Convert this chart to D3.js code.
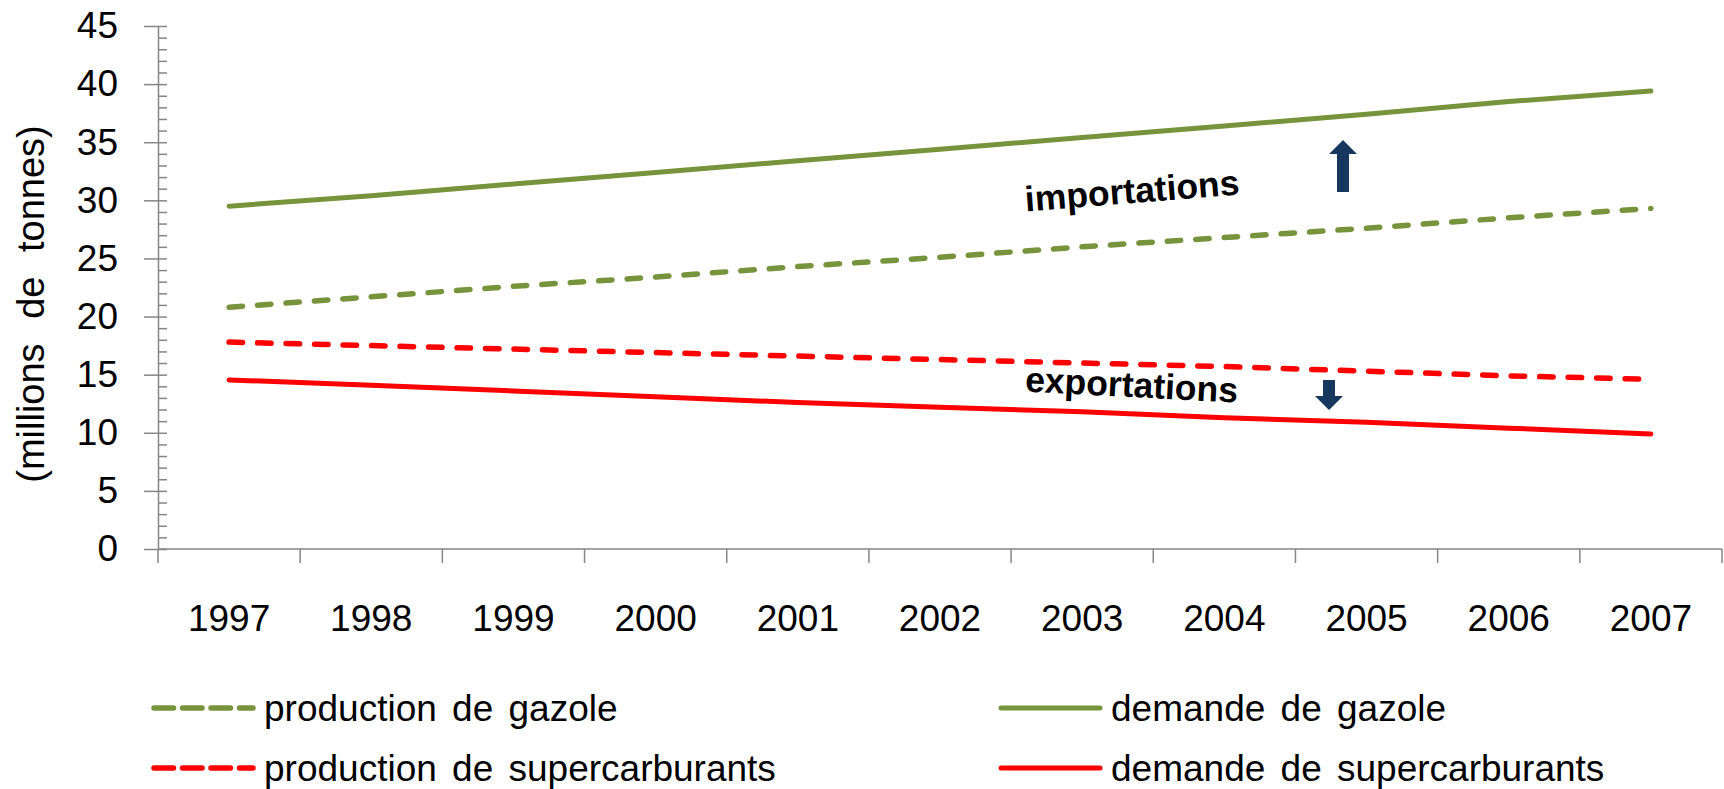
<!DOCTYPE html>
<html>
<head>
<meta charset="utf-8">
<script src="https://cdn.jsdelivr.net/npm/d3@7"></script>
<style>
  html, body { margin: 0; padding: 0; background: #fff; }
  svg { display: block; font-family: "Liberation Sans", Arial, sans-serif; }
</style>
</head>
<body>
<svg id="chart" width="1724" height="789"></svg>
<script>
// ----- data -----
const years = [1997, 1998, 1999, 2000, 2001, 2002, 2003, 2004, 2005, 2006, 2007];
const demandeGazole = [29.5, 30.4, 31.4, 32.4, 33.4, 34.4, 35.4, 36.4, 37.4, 38.5, 39.4];
const productionGazole = [20.8, 21.7, 22.6, 23.4, 24.3, 25.1, 26.0, 26.8, 27.6, 28.5, 29.3];
const productionSuper = [17.8, 17.5, 17.2, 16.9, 16.6, 16.3, 16.0, 15.7, 15.3, 14.9, 14.6];
const demandeSuper = [14.55, 14.1, 13.6, 13.1, 12.6, 12.2, 11.8, 11.3, 10.9, 10.4, 9.9];
const yMajorTicks = [0, 5, 10, 15, 20, 25, 30, 35, 40, 45];

const GREEN = "#77933C";
const RED = "#FF0000";
const AXIS = "#868686";
const NAVY = "#17375E";

const series = [
  { name: "production de gazole", values: productionGazole, color: GREEN, dashed: true },
  { name: "demande de gazole", values: demandeGazole, color: GREEN, dashed: false },
  { name: "production de supercarburants", values: productionSuper, color: RED, dashed: true },
  { name: "demande de supercarburants", values: demandeSuper, color: RED, dashed: false }
];

const svg = d3.select("#chart");
svg.append("rect").attr("width", 1724).attr("height", 789).attr("fill", "#fff");

// plot area
const plotL = 158, plotR = 1722, plotT = 26, plotB = 549;

const x = d3.scaleBand().domain(years).range([plotL, plotR]);
const y = d3.scaleLinear().domain([0, 45]).range([plotB, plotT]);
const cx = d => x(d) + x.bandwidth() / 2;

// ----- y axis -----
// minor ticks, inside
svg.append("g")
  .attr("transform", `translate(${plotL},0)`)
  .call(d3.axisRight(y).tickValues(d3.range(0, 46, 1)).tickSizeInner(9).tickSizeOuter(0).tickFormat(""))
  .call(g => g.select(".domain").remove())
  .call(g => g.selectAll("line").attr("stroke", AXIS).attr("stroke-width", 1.5));

// major ticks crossing + labels
svg.append("g")
  .attr("transform", `translate(${plotL},0)`)
  .call(d3.axisLeft(y).tickValues(yMajorTicks).tickSizeInner(14).tickSizeOuter(0).tickPadding(26))
  .call(g => g.select(".domain").attr("stroke", AXIS).attr("stroke-width", 1.5))
  .call(g => g.selectAll("line").attr("stroke", AXIS).attr("stroke-width", 1.5))
  .call(g => g.selectAll("text").attr("fill", "#000").style("font-size", "37px")
    .style("font-family", "'Liberation Sans', Arial, sans-serif"));

// ----- x axis -----
const xAxis = svg.append("g")
  .attr("transform", `translate(0,${plotB})`)
  .call(d3.axisBottom(x).tickSize(0).tickPadding(56))
  .call(g => g.select(".domain").remove())
  .call(g => g.selectAll("text").attr("fill", "#000").style("font-size", "37px")
    .style("font-family", "'Liberation Sans', Arial, sans-serif"));

xAxis.append("line")
  .attr("x1", plotL).attr("x2", plotR).attr("y1", 0).attr("y2", 0)
  .attr("stroke", AXIS).attr("stroke-width", 1.5);

xAxis.selectAll(".bound")
  .data(years.map(d => x(d)).concat([plotR]))
  .enter().append("line")
  .attr("class", "bound")
  .attr("x1", d => d).attr("x2", d => d)
  .attr("y1", 0).attr("y2", 14)
  .attr("stroke", AXIS).attr("stroke-width", 1.5);

// y axis title
svg.append("text")
  .attr("transform", "translate(44,304) rotate(-90)")
  .attr("text-anchor", "middle")
  .style("font-size", "38px")
  .style("word-spacing", "14px")
  .text("(millions de tonnes)");

// ----- lines -----
const line = d3.line()
  .x((d, i) => cx(years[i]))
  .y(d => y(d));

svg.selectAll(".series")
  .data(series)
  .enter().append("path")
  .attr("class", "series")
  .attr("d", d => line(d.values))
  .attr("fill", "none")
  .attr("stroke", d => d.color)
  .attr("stroke-width", d => d.dashed ? 5.5 : 5)
  .attr("stroke-linecap", "round")
  .attr("stroke-dasharray", d => d.dashed ? "13.5,15" : null);

// ----- annotations -----
svg.append("text")
  .attr("transform", "translate(1133,203) rotate(-4.5)")
  .attr("text-anchor", "middle")
  .style("font-size", "35.5px")
  .style("font-weight", "bold")
  .text("importations");

svg.append("text")
  .attr("transform", "translate(1131,397) rotate(3)")
  .attr("text-anchor", "middle")
  .style("font-size", "35.5px")
  .style("font-weight", "bold")
  .text("exportations");

// block arrows
const upArrow = [[1343, 140], [1357, 154], [1349, 154], [1349, 192], [1337, 192], [1337, 154], [1329, 154]];
const downArrow = [[1329, 410], [1343, 396], [1335, 396], [1335, 380], [1323, 380], [1323, 396], [1315, 396]];
svg.selectAll(".arrow")
  .data([upArrow, downArrow])
  .enter().append("polygon")
  .attr("class", "arrow")
  .attr("points", d => d.map(p => p.join(",")).join(" "))
  .attr("fill", NAVY);

// ----- legend -----
const legendPos = [
  { lx: 151, ly: 708 },
  { lx: 998, ly: 708 },
  { lx: 151, ly: 768 },
  { lx: 998, ly: 768 }
];

const legend = svg.selectAll(".legend")
  .data(series)
  .enter().append("g")
  .attr("class", "legend")
  .attr("transform", (d, i) => `translate(${legendPos[i].lx},${legendPos[i].ly})`);

legend.append("line")
  .attr("x1", 3).attr("x2", 102)
  .attr("y1", 0).attr("y2", 0)
  .attr("stroke", d => d.color)
  .attr("stroke-width", d => d.dashed ? 5.5 : 5)
  .attr("stroke-linecap", "round")
  .attr("stroke-dasharray", d => d.dashed ? "19.5,9" : null);

legend.append("text")
  .attr("x", 113)
  .attr("y", 13)
  .style("font-size", "37px")
  .style("word-spacing", "5px")
  .text(d => d.name);
</script>
</body>
</html>
